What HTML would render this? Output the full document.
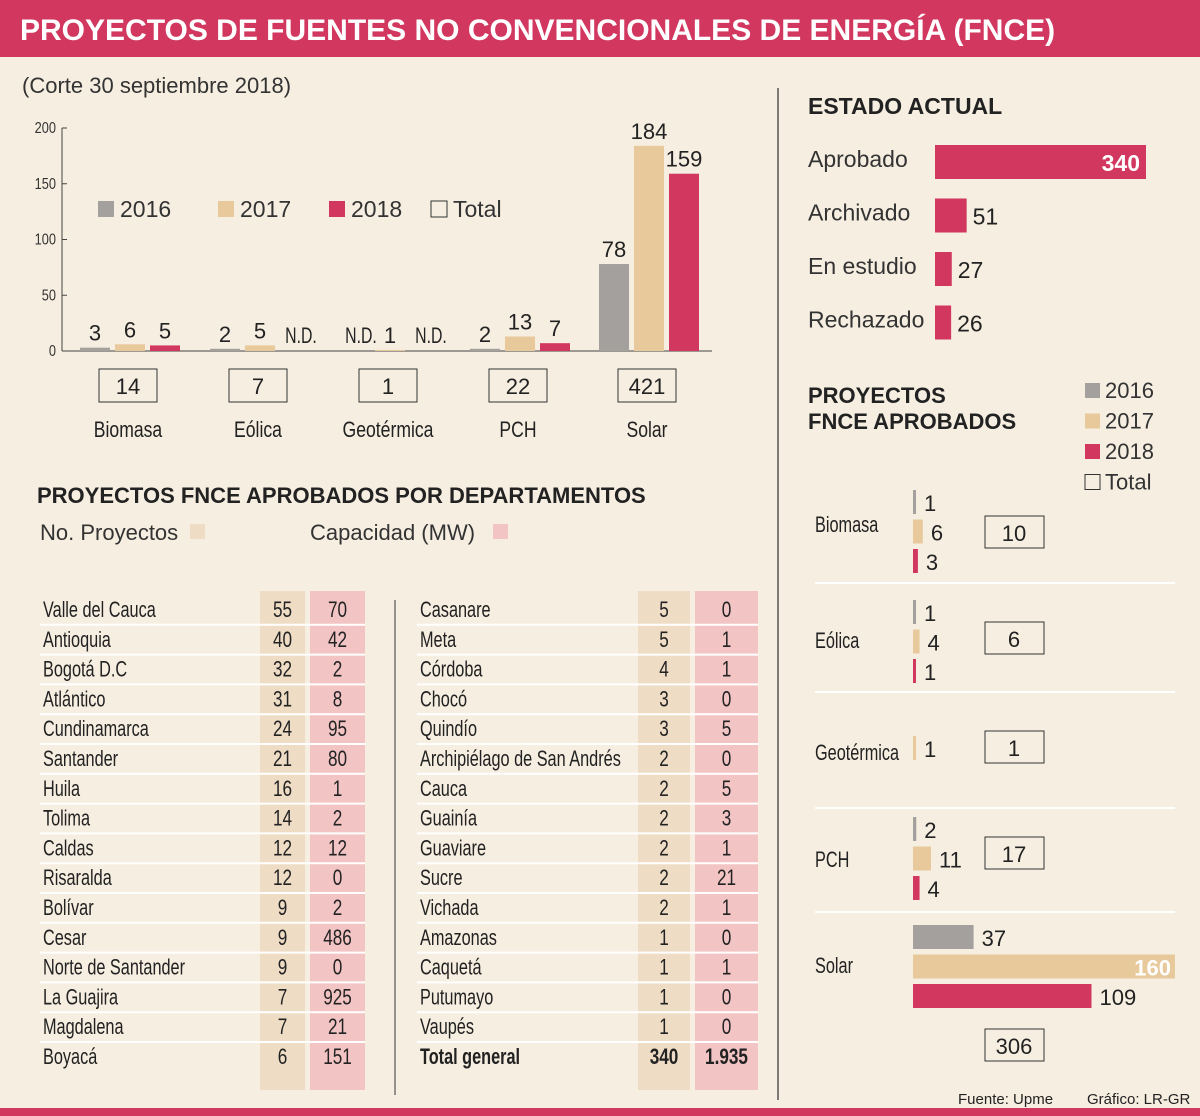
<!DOCTYPE html>
<html><head><meta charset="utf-8">
<style>
html,body{margin:0;padding:0;background:#f6eee1;}
svg{display:block;font-family:"Liberation Sans",sans-serif;}
</style></head>
<body>
<svg id="s" width="1200" height="1116" viewBox="0 0 1200 1116" xmlns="http://www.w3.org/2000/svg">
<rect x="0" y="0" width="1200" height="1116" fill="#f6eee1"/>
<rect x="0" y="0" width="1200" height="57" fill="#d1375f"/>
<text x="20" y="40" font-size="30" font-weight="bold" fill="#fff">PROYECTOS DE FUENTES NO CONVENCIONALES DE ENERGÍA (FNCE)</text>
<rect x="0" y="1108" width="1200" height="8" fill="#d1375f"/>
<text x="22" y="93" font-size="22" fill="#333">(Corte 30 septiembre 2018)</text>
<line x1="778" y1="88" x2="778" y2="1100" stroke="#555" stroke-width="1.5"/>
<g id="top"></g>
<g id="estado"></g>
<g id="aprob"></g>
<g id="dept"></g>
<text x="958" y="1104" font-size="15" fill="#222">Fuente: Upme</text>
<text x="1087" y="1104" font-size="15" fill="#222">Gráfico: LR-GR</text>
</svg>
<script>
const categories=["Biomasa","Eólica","Geotérmica","PCH","Solar"];
const v2016=[3,2,null,2,78];
const v2017=[6,5,1,13,184];
const v2018=[5,null,null,7,159];
const totals=[14,7,1,22,421];
const yTicks=[0,50,100,150,200];
const estadoCats=["Aprobado","Archivado","En estudio","Rechazado"];
const estadoVals=[340,51,27,26];
const a2016=[1,1,null,2,37];
const a2017=[6,4,1,11,160];
const a2018=[3,1,null,4,109];
const aTotals=[10,6,1,17,306];
const deptLeft=["Valle del Cauca","Antioquia","Bogotá D.C","Atlántico","Cundinamarca","Santander","Huila","Tolima","Caldas","Risaralda","Bolívar","Cesar","Norte de Santander","La Guajira","Magdalena","Boyacá"];
const projLeft=[55,40,32,31,24,21,16,14,12,12,9,9,9,7,7,6];
const capLeft=["70","42","2","8","95","80","1","2","12","0","2","486","0","925","21","151"];
const deptRight=["Casanare","Meta","Córdoba","Chocó","Quindío","Archipiélago de San Andrés","Cauca","Guainía","Guaviare","Sucre","Vichada","Amazonas","Caquetá","Putumayo","Vaupés","Total general"];
const projRight=[5,5,4,3,3,2,2,2,2,2,2,1,1,1,1,340];
const capRight=["0","1","1","0","5","0","5","3","1","21","1","0","1","0","0","1.935"];

const NS="http://www.w3.org/2000/svg";
const C={g:"#a3a09e",t:"#e7c99b",r:"#d1375f"};
function mk(p,tag,at,txt){const el=document.createElementNS(NS,tag);for(const k in at)el.setAttribute(k,at[k]);if(txt!==undefined)el.textContent=txt;p.appendChild(el);return el;}
// condensed text: scaled horizontally around its anchor point
function nt(p,x,y,at,txt,sx){at.x=0;at.y=0;at.transform='translate('+x+','+y+') scale('+(sx||0.78)+',1)';return mk(p,'text',at,txt);}
let e;

// top chart
const topG=document.getElementById('top');
const y0=351,yS=223/200;const yv=v=>y0-v*yS;
e=mk(topG,'line',{x1:62,y1:128,x2:62,y2:351,stroke:'#444'});

e=mk(topG,'line',{x1:62,y1:351,x2:712,y2:351,stroke:'#444'});

yTicks.forEach(t=>{
  e=nt(topG,56,yv(t)+5,{'font-size':16,'text-anchor':'end',fill:'#333'},t,0.8);
  
  mk(topG,'line',{x1:62,y1:yv(t),x2:67,y2:yv(t),stroke:'#444'});
});
const centers=[130,260,390,520,649];
[[v2016,C.g,-35],[v2017,C.t,0],[v2018,C.r,35]].forEach(([arr,col,off],si)=>{
  arr.forEach((v,i)=>{
    const cx=centers[i]+off;
    if(v===null){e=nt(topG,cx+6,343,{'font-size':22,'text-anchor':'middle',fill:'#222'},'N.D.',0.72);
      return;}
    e=mk(topG,'rect',{x:cx-15,y:yv(v),width:30,height:v*yS,fill:col});
    
    e=mk(topG,'text',{x:cx,y:yv(v)-7,'font-size':22,'text-anchor':'middle',fill:'#222'},v);
    
  });
});
categories.forEach((c,i)=>{
  const cx=centers[i]-2;
  e=mk(topG,'rect',{x:cx-29,y:369,width:58,height:33,fill:'none',stroke:'#333'});
  
  e=mk(topG,'text',{x:cx,y:394,'font-size':22,'text-anchor':'middle',fill:'#222'},totals[i]);
  
  e=nt(topG,cx,437,{'font-size':22,'text-anchor':'middle',fill:'#222'},c,0.8);
  
});
[[98,C.g,'2016'],[218,C.t,'2017'],[329,C.r,'2018'],[431,null,'Total']].forEach(([x,col,l])=>{
  e=mk(topG,'rect',{x:x,y:201,width:16,height:16,fill:col||'none',stroke:col?'none':'#333'});
  
  e=mk(topG,'text',{x:x+22,y:217,'font-size':23,fill:'#333'},l);
  
});

// estado
const es=document.getElementById('estado');
e=mk(es,'text',{x:808,y:114,'font-size':23,'font-weight':'bold',fill:'#222'},'ESTADO ACTUAL');

const eS=211/340;
estadoCats.forEach((c,i)=>{
  const y=145+i*53.5,w=estadoVals[i]*eS;
  e=mk(es,'text',{x:808,y:y+22,'font-size':23,fill:'#333'},c);
  
  e=mk(es,'rect',{x:935,y:y,width:w,height:34,fill:C.r});
  
  const inside=w>100;
  e=mk(es,'text',{x:inside?935+w-6:935+w+6,y:y+26,'font-size':23,'text-anchor':inside?'end':'start',fill:inside?'#fff':'#222','font-weight':inside?'bold':'normal'},estadoVals[i]);
  
});

// approved chart
const ap=document.getElementById('aprob');
e=mk(ap,'text',{x:808,y:403,'font-size':22,'font-weight':'bold',fill:'#222'},'PROYECTOS');

mk(ap,'text',{x:808,y:429,'font-size':22,'font-weight':'bold',fill:'#222'},'FNCE APROBADOS');
[[C.g,'2016'],[C.t,'2017'],[C.r,'2018'],[null,'Total']].forEach(([col,l],i)=>{
  const y=383+i*30.5;
  e=mk(ap,'rect',{x:1085,y:y,width:15,height:15,fill:col||'none',stroke:col?'none':'#333'});
  
  e=mk(ap,'text',{x:1105,y:y+15,'font-size':22,fill:'#333'},l);
  
});
const aS=262/160;
const gTop=[490,600,736,817,925];
const labelY=[532,648,760,867,973];
const boxY=[516,622,731,837,1029];
[583,692,808,912].forEach(y=>{mk(ap,'line',{x1:815,y1:y,x2:1175,y2:y,stroke:'#fff','stroke-width':2});});
categories.forEach((c,i)=>{
  e=nt(ap,815,labelY[i],{'font-size':22,fill:'#222'},c,0.74);
  
  [[a2016,C.g],[a2017,C.t],[a2018,C.r]].forEach(([arr,col],k)=>{
    const v=arr[i];if(v===null)return;
    const y=(i===2?gTop[i]:gTop[i]+k*29.5),w=Math.max(3,v*aS);
    e=mk(ap,'rect',{x:913,y:y,width:w,height:24,fill:col});
    
    const inside=w>200;
    e=mk(ap,'text',{x:inside?913+w-4:913+w+8,y:y+21,'font-size':22,'text-anchor':inside?'end':'start',fill:inside?'#fff':'#222','font-weight':inside?'bold':'normal'},v);
    
  });
  e=mk(ap,'rect',{x:985,y:boxY[i],width:59,height:32,fill:'none',stroke:'#333'});
  
  e=mk(ap,'text',{x:1014,y:boxY[i]+25,'font-size':22,'text-anchor':'middle',fill:'#222'},aTotals[i]);
  
});

// departments
const dp=document.getElementById('dept');
e=mk(dp,'text',{x:37,y:503,'font-size':22,'font-weight':'bold',fill:'#222'},'PROYECTOS FNCE APROBADOS POR DEPARTAMENTOS');

mk(dp,'text',{x:40,y:540,'font-size':22,fill:'#333'},'No. Proyectos');
mk(dp,'rect',{x:190,y:524,width:15,height:15,fill:'#eedcc5'});
mk(dp,'text',{x:310,y:540,'font-size':22,fill:'#333'},'Capacidad (MW)');
mk(dp,'rect',{x:493,y:524,width:15,height:15,fill:'#f2c4c4'});
const tableDivider=mk(dp,'line',{x1:395,y1:600,x2:395,y2:1095,stroke:'#555','stroke-width':1.2});
function table(names,proj,cap,nx,px,pw,cx,cw,lx){
  mk(dp,'rect',{x:px,y:591,width:pw,height:499,fill:'#eedcc5'});
  mk(dp,'rect',{x:cx,y:591,width:cw,height:499,fill:'#f2c4c4'});
  names.forEach((n,i)=>{
    const y=609+i*29.8;
    if(i>0)mk(dp,'line',{x1:lx,y1:y-14,x2:cx+cw,y2:y-14,stroke:'#fff','stroke-width':2});
    const b=n==='Total general'?'bold':'normal';
    e=nt(dp,nx,y+8,{'font-size':22,fill:'#222','font-weight':b},n,0.74);
    
    e=nt(dp,px+pw/2,y+8,{'font-size':22,'text-anchor':'middle',fill:'#222','font-weight':b},proj[i],0.78);
    
    e=nt(dp,cx+cw/2,y+8,{'font-size':22,'text-anchor':'middle',fill:'#222','font-weight':b},cap[i],0.78);
    
  });
}
table(deptLeft,projLeft,capLeft,43,260,45,310,55,40);
table(deptRight,projRight,capRight,420,638,52,695,63,417);
</script>
</body></html>
